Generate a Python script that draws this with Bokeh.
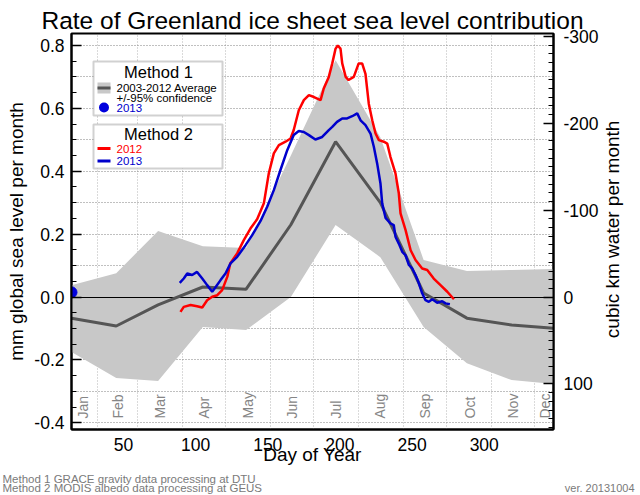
import numpy as np
from bokeh.plotting import figure
from bokeh.layouts import column, row
from bokeh.models import (Range1d, LinearAxis, FixedTicker, SingleIntervalTicker, Label,
                          BoxAnnotation, PrintfTickFormatter)
from bokeh.core.properties import value
from bokeh.embed import file_html
from bokeh.resources import INLINE

FONT = "Liberation Sans"

# ---------------- data ----------------
# Method 1 (GRACE): 2003-2012 monthly average and +/-95% confidence, mm sea level per month
month_days = [14, 45, 74, 105, 135, 166, 197, 228, 258, 288, 319, 348]
mean_2003_2012 = [-0.067, -0.092, -0.025, 0.032, 0.025, 0.23, 0.494, 0.30, 0.013, -0.067, -0.089, -0.099]
upper_95 = [0.038, 0.076, 0.21, 0.162, 0.156, 0.45, 0.753, 0.508, 0.118, 0.083, 0.086, 0.089]
lower_95 = [-0.175, -0.257, -0.267, -0.095, -0.105, 0.0, 0.229, 0.127, -0.095, -0.21, -0.264, -0.276]
grace_2013_day = [14]
grace_2013_val = [0.015]

# Method 2 (MODIS albedo): daily estimates
modis_2012_day = [89.5, 91.8, 96.5, 101, 104.6, 108, 111.5, 115, 118.4, 122, 124, 128.8, 133.4, 138,
                  142.7, 147.3, 150.7, 154.2, 157.7, 162.3, 165.8, 168, 171.5, 175, 178.5, 182, 186.6,
                  188.8, 192.3, 194.7, 197, 198.5, 200.4, 201.6, 204, 206, 209.6, 213, 215.4, 217.7,
                  220, 222.4, 224.7, 227, 230.4, 232.8, 235, 238.5, 240.8, 242, 245.5, 249, 252.4,
                  257, 260.5, 265, 269.7, 274.4, 279]
modis_2012_val = [-0.047, -0.031, -0.025, -0.029, -0.033, -0.01, 0.001, 0.006, 0.022, 0.065, 0.107,
                  0.139, 0.181, 0.218, 0.248, 0.298, 0.393, 0.457, 0.483, 0.494, 0.504, 0.531, 0.594,
                  0.626, 0.642, 0.636, 0.626, 0.663, 0.70, 0.743, 0.79, 0.80, 0.79, 0.743, 0.70, 0.69,
                  0.70, 0.743, 0.743, 0.71, 0.615, 0.562, 0.52, 0.499, 0.494, 0.488, 0.446, 0.393,
                  0.33, 0.266, 0.213, 0.149, 0.118, 0.091, 0.086, 0.059, 0.038, 0.017, -0.007]
modis_2013_day = [89, 91.8, 94.2, 97.6, 101, 104.6, 108, 111.5, 113.8, 117.3, 120.7, 124.2, 128.8,
                  134.6, 139.2, 145, 149.6, 154.2, 158.8, 163.5, 168, 171.5, 175, 178.5, 183, 187.7,
                  192.3, 194.7, 198, 201.6, 205, 208.5, 212, 214.3, 217.7, 221.2, 223.5, 225.8, 228.1,
                  229.3, 231.6, 235, 237.3, 238.5, 240.8, 243.2, 245.5, 247.8, 250.1, 252.4, 254.7,
                  257, 259.3, 261.6, 264, 267.4, 270.9, 273.2, 276.2]
modis_2013_val = [0.045, 0.059, 0.075, 0.07, 0.08, 0.059, 0.038, 0.017, 0.031, 0.054, 0.075, 0.107,
                  0.128, 0.165, 0.197, 0.242, 0.287, 0.34, 0.404, 0.467, 0.515, 0.528, 0.525, 0.515,
                  0.501, 0.509, 0.531, 0.541, 0.557, 0.568, 0.568, 0.575, 0.584, 0.562, 0.547, 0.52,
                  0.478, 0.425, 0.361, 0.298, 0.252, 0.234, 0.229, 0.192, 0.17, 0.144, 0.133, 0.102,
                  0.091, 0.07, 0.044, 0.012, -0.01, -0.015, -0.007, -0.018, -0.013, -0.02, -0.023]

month_names = ["Jan", "Feb", "Mar", "Apr", "May", "Jun", "Jul", "Aug", "Sep", "Oct", "Nov", "Dec"]
month_label_days = [22, 46, 75, 106, 136, 167, 197, 228, 259, 290, 320, 342]
month_start_days = [32, 60, 91, 121, 152, 182, 213, 244, 274, 305, 335]
day_ticks = [50, 100, 150, 200, 250, 300]
mm_ticks = [-0.4, -0.2, 0.0, 0.2, 0.4, 0.6, 0.8]
KM3_PER_MM = 362.0

# ---------------- layout (pixels) ----------------
X0, X1 = 14, 348
Y0, Y1 = -0.421, 0.838
W, H = 640, 495
MAIN_W, MAIN_H = 601, 469          # main figure; right strip and footer fill the rest
L, T = 71, 33                      # frame left / top
FW, FH = 482, 396                  # frame size
R = MAIN_W - L - FW
B = MAIN_H - T - FH


def fx(px):
    return X0 + (px - L) * (X1 - X0) / FW


def fy(py):
    return Y1 - (py - T) * (Y1 - Y0) / FH


p = figure(width=MAIN_W, height=MAIN_H, output_backend="svg", toolbar_location=None,
           x_range=Range1d(X0, X1), y_range=Range1d(Y0, Y1),
           min_border_left=L, min_border_right=R, min_border_top=T, min_border_bottom=B,
           background_fill_color="white", border_fill_color="white")
p.outline_line_color = "black"
p.outline_line_width = 2

# title
p.title.text = "Rate of Greenland ice sheet sea level contribution"
p.title.align = "center"
p.title.text_font = FONT
p.title.text_font_size = "24.5px"
p.title.text_font_style = "normal"
p.title.text_color = "black"
p.title.standoff = 0

# grids
p.xgrid.ticker = FixedTicker(ticks=month_start_days)
p.xgrid.grid_line_color = "#b4b4b4"
p.xgrid.grid_line_dash = "1 2"
p.ygrid.ticker = SingleIntervalTicker(interval=0.1)
p.ygrid.grid_line_color = "#808080"
p.ygrid.grid_line_dash = "1 2"

AXIS_LABEL_SIZE = "19px"

# left axis
yax = p.yaxis[0]
yax.ticker = FixedTicker(ticks=mm_ticks,
                         minor_ticks=[round(v, 2) for v in np.arange(-0.4, 0.84, 0.05)])
yax.formatter = PrintfTickFormatter(format="%.1f")
yax.major_tick_in = 10
yax.major_tick_out = 0
yax.minor_tick_in = 5
yax.minor_tick_out = 0
yax.axis_line_width = 2
yax.major_tick_line_width = 1.5
yax.major_label_standoff = 7
yax.major_label_text_font = FONT
yax.major_label_text_font_size = "17.5px"
yax.major_label_text_color = "black"
yax.axis_label = "mm global sea level per month"
yax.axis_label_text_font = FONT
yax.axis_label_text_font_size = AXIS_LABEL_SIZE
yax.axis_label_text_font_style = "normal"
yax.axis_label_text_color = "black"
yax.axis_label_standoff = 4

# right axis (cubic km water per month, inverted)
p.extra_y_ranges = {"km3": Range1d(start=-Y0 * KM3_PER_MM, end=-Y1 * KM3_PER_MM)}
rax = LinearAxis(y_range_name="km3",
                 ticker=SingleIntervalTicker(interval=100, num_minor_ticks=10),
                 formatter=PrintfTickFormatter(format="%d"))
rax.major_tick_in = 10
rax.major_tick_out = 0
rax.minor_tick_in = 5
rax.minor_tick_out = 0
rax.axis_line_width = 2
rax.major_tick_line_width = 1.5
rax.major_label_standoff = 10
rax.major_label_text_font = FONT
rax.major_label_text_font_size = "17.5px"
rax.major_label_text_color = "black"
p.add_layout(rax, "right")

# bottom axis
xax = p.xaxis[0]
xax.ticker = FixedTicker(ticks=day_ticks)
xax.major_tick_in = 0
xax.major_tick_out = 0
xax.minor_tick_in = 0
xax.minor_tick_out = 0
xax.axis_line_width = 2
xax.major_label_standoff = 8
xax.major_label_text_font = FONT
xax.major_label_text_font_size = "17.5px"
xax.major_label_text_color = "black"
xax.axis_label = "Day of Year"
xax.axis_label_text_font = FONT
xax.axis_label_text_font_size = AXIS_LABEL_SIZE
xax.axis_label_text_font_style = "normal"
xax.axis_label_text_color = "black"
xax.axis_label_standoff = -10

# ---------------- glyphs ----------------
p.varea(x=month_days, y1=lower_95, y2=upper_95, fill_color="#c8c8c8")
p.hspan(y=[0], line_color="black", line_width=1)
p.line(month_days, mean_2003_2012, line_color="#555555", line_width=3)
p.line(modis_2012_day, modis_2012_val, line_color="#ff0000", line_width=2.5)
p.line(modis_2013_day, modis_2013_val, line_color="#0000cc", line_width=2.5)
p.scatter(grace_2013_day, grace_2013_val, size=11, fill_color="#0000dd", line_color="#0000dd")

p.text(x=month_label_days, y=[fy(418)] * len(month_names), text=month_names, angle=np.pi / 2,
       text_align="left", text_baseline="middle", text_font=value(FONT),
       text_font_size=value("14px"), text_color="#858585")


# ---------------- legend (inside the frame) ----------------
def box(l, r, t, b, **kw):
    p.add_layout(BoxAnnotation(left=fx(l), right=fx(r), top=fy(t), bottom=fy(b), **kw))


def label(x, y, text, size, color="black", align="left", baseline="middle"):
    p.add_layout(Label(x=fx(x), y=fy(y), text=text, text_font=FONT, text_font_size=f"{size}px",
                       text_color=color, text_align=align, text_baseline=baseline))


box(93, 222, 61, 115, fill_color="white", fill_alpha=1, line_color="#666666", line_width=2)
label(158, 71, "Method 1", 16.5, align="center")
box(97, 110, 82, 93, fill_color="#c8c8c8", fill_alpha=1, line_alpha=0)
box(97, 110, 86, 89, fill_color="#555555", fill_alpha=1, line_alpha=0)
label(116, 87.5, "2003-2012 Average", 11.5)
label(116, 97, "+/-95% confidence", 11.5)
box(98.5, 108.5, 102, 112, fill_color="#0000dd", fill_alpha=1, line_alpha=0, border_radius=5)
label(116, 107.5, "2013", 11.5, color="#0000cc")

box(93, 222, 124, 168, fill_color="white", fill_alpha=1, line_color="#666666", line_width=2)
label(158, 133.5, "Method 2", 16.5, align="center")
box(97, 110, 146.5, 149.5, fill_color="#ff0000", fill_alpha=1, line_alpha=0)
label(116, 148, "2012", 11.5, color="#ff0000")
box(97, 110, 159, 162, fill_color="#0000cc", fill_alpha=1, line_alpha=0)
label(116, 160.5, "2013", 11.5, color="#0000cc")


# ---------------- side strip (right axis title) and footer ----------------
def blank(w, h):
    f = figure(width=w, height=h, output_backend="svg", toolbar_location=None,
               title_location=None,
               x_range=Range1d(0, w), y_range=Range1d(0, h),
               x_axis_location=None, y_axis_location=None, min_border=0,
               background_fill_color="white", border_fill_color="white")
    f.outline_line_color = None
    f.xgrid.visible = False
    f.ygrid.visible = False
    return f


STRIP_W = W - MAIN_W
strip = blank(STRIP_W, MAIN_H)
strip.add_layout(Label(x=612 - MAIN_W, y=MAIN_H - 232, text="cubic km water per month",
                       text_font=FONT, text_font_size=AXIS_LABEL_SIZE, text_color="black",
                       text_align="center", text_baseline="middle", angle=np.pi / 2))

FOOT_H = H - MAIN_H
foot = blank(W, FOOT_H)


def flabel(x, y, text, size, align="left"):
    # y: pixel row of the text baseline (the footer sits a few pixels below the row above)
    foot.add_layout(Label(x=x, y=H - y, text=text, text_font=FONT, text_font_size=f"{size}px",
                          text_color="#7a7a7a", text_align=align, text_baseline="alphabetic"))


flabel(2, 478, "Method 1 GRACE gravity data processing at DTU", 11.5)
flabel(2, 487.5, "Method 2 MODIS albedo data processing at GEUS", 11.5)
flabel(634, 487.5, "ver. 20131004", 11, align="right")

layout = column(row(p, strip, spacing=0), foot, spacing=0)
open("out.html", "w").write(file_html(layout, INLINE))
